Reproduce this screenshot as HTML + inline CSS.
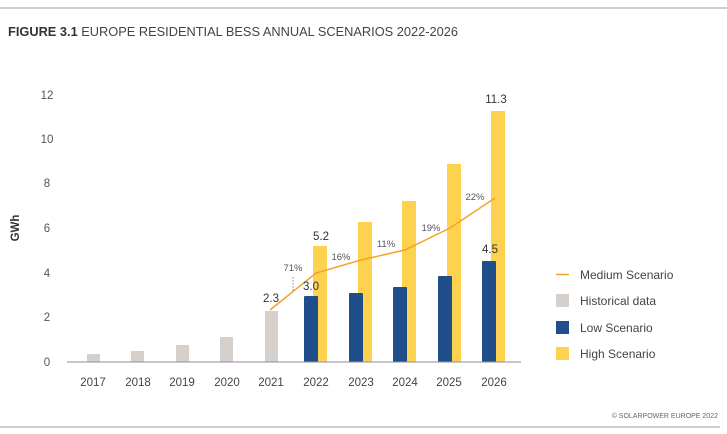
<!DOCTYPE html>
<html><head><meta charset="utf-8"><style>
html,body{margin:0;padding:0;background:#fff;}
svg{display:block;font-family:"Liberation Sans",sans-serif;}
</style></head><body>
<svg width="727" height="434" viewBox="0 0 727 434" xmlns="http://www.w3.org/2000/svg">
<line x1="0" y1="8" x2="727" y2="8" stroke="#9a9ca3" stroke-width="1"/>
<text x="8" y="36" font-size="12.8" fill="#444"><tspan font-weight="bold" fill="#333">FIGURE 3.1</tspan> EUROPE RESIDENTIAL BESS ANNUAL SCENARIOS 2022-2026</text>
<g font-size="11.5" fill="#555" text-anchor="middle">
<text x="47" y="99">12</text><text x="47" y="143">10</text><text x="47" y="187">8</text>
<text x="47" y="232">6</text><text x="47" y="277">4</text><text x="47" y="321">2</text><text x="47" y="366">0</text>
</g>
<text transform="translate(19,228) rotate(-90)" font-size="11.5" font-weight="bold" fill="#333" text-anchor="middle">GWh</text>
<g fill="#d5d0cc">
<rect x="87" y="354" width="13" height="8"/>
<rect x="131" y="351" width="13" height="11"/>
<rect x="176" y="345" width="13" height="17"/>
<rect x="220" y="337" width="13" height="25"/>
<rect x="265" y="311" width="13" height="51"/>
</g>
<g fill="#fdd24f">
<rect x="313" y="246" width="14" height="116"/>
<rect x="358" y="222" width="14" height="140"/>
<rect x="402" y="201" width="14" height="161"/>
<rect x="447" y="164" width="14" height="198"/>
<rect x="491" y="111" width="14" height="251"/>
</g>
<g fill="#1f4e8b">
<rect x="304" y="296" width="14" height="66" rx="1"/>
<rect x="349" y="293" width="14" height="69" rx="1"/>
<rect x="393" y="287" width="14" height="75" rx="1"/>
<rect x="438" y="276" width="14" height="86" rx="1"/>
<rect x="482" y="261" width="14" height="101" rx="1"/>
</g>
<line x1="67" y1="362" x2="521" y2="362" stroke="#8a8e99" stroke-width="1"/>
<polyline points="270,310 316,273 361,260 405,250 450,228 495,198" fill="none" stroke="#f5a22a" stroke-width="1.5"/>
<line x1="293" y1="277" x2="293" y2="291" stroke="#666" stroke-width="0.8" stroke-dasharray="1.5,1.5"/>
<g font-size="9.5" fill="#555" text-anchor="middle">
<text x="293" y="271">71%</text><text x="341" y="260">16%</text><text x="386" y="247">11%</text>
<text x="431" y="231">19%</text><text x="475" y="200">22%</text>
</g>
<g font-size="11.5" fill="#333" text-anchor="middle">
<text x="271" y="302">2.3</text><text x="311" y="290">3.0</text><text x="321" y="240">5.2</text>
<text x="490" y="253">4.5</text><text x="496" y="103">11.3</text>
</g>
<g font-size="11.5" fill="#444" text-anchor="middle">
<text x="93" y="386">2017</text><text x="138" y="386">2018</text><text x="182" y="386">2019</text>
<text x="227" y="386">2020</text><text x="271" y="386">2021</text><text x="316" y="386">2022</text>
<text x="361" y="386">2023</text><text x="405" y="386">2024</text><text x="449" y="386">2025</text>
<text x="494" y="386">2026</text>
</g>
<line x1="556" y1="274.5" x2="569" y2="274.5" stroke="#f5a22a" stroke-width="1.5"/>
<rect x="556" y="294" width="13" height="13" fill="#d5d0cc"/>
<rect x="556" y="321" width="13" height="13" fill="#1f4e8b"/>
<rect x="556" y="347" width="13" height="13" fill="#fdd24f"/>
<g font-size="12" fill="#444">
<text x="580" y="279">Medium Scenario</text><text x="580" y="305">Historical data</text>
<text x="580" y="332">Low Scenario</text><text x="580" y="358">High Scenario</text>
</g>
<text x="718" y="418" font-size="7" fill="#666" text-anchor="end">© SOLARPOWER EUROPE 2022</text>
<line x1="0" y1="427" x2="720" y2="427" stroke="#9a9ca3" stroke-width="1"/>
</svg>
</body></html>
